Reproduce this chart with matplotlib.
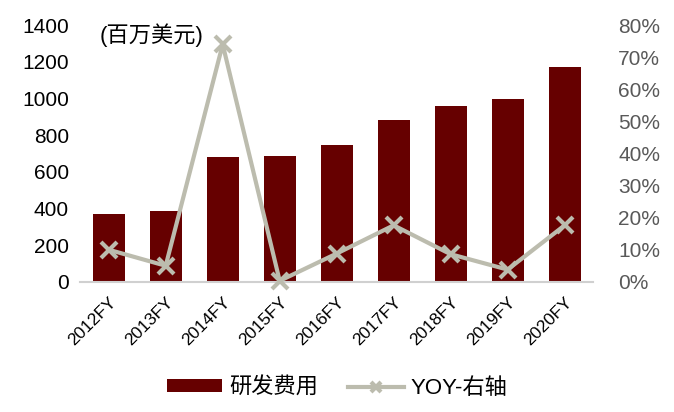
import matplotlib.pyplot as plt
import numpy as np
from matplotlib.ticker import FuncFormatter

plt.rcParams['font.family'] = ['Liberation Sans', 'Noto Sans CJK SC', 'DejaVu Sans']

# data
years = ['2012FY', '2013FY', '2014FY', '2015FY', '2016FY', '2017FY', '2018FY', '2019FY', '2020FY']
rd_expense = [370, 388, 682, 686, 748, 882, 958, 995, 1173]   # 百万美元
yoy = [10.0, 5.0, 74.0, 0.3, 8.8, 17.6, 8.6, 3.8, 17.6]      # %

bar_color = '#660000'
line_color = '#BCBCAE'

fig = plt.figure(figsize=(6.74, 4.12), dpi=100)
ax = fig.add_axes([0.119, 0.316, 0.761, 0.623])
x = np.arange(len(years))

bars = ax.bar(x, rd_expense, width=0.56, color=bar_color, label='研发费用', zorder=2)
ax.set_xlim(-0.5, len(years) - 0.5)
ax.set_ylim(0, 1400)
ax.set_yticks(range(0, 1401, 200))
ax.set_xticks(x)
ax.set_xticklabels(years, rotation=45, ha='right', rotation_mode='anchor', fontsize=12.5)
ax.tick_params(axis='x', length=0, pad=9)
ax.tick_params(axis='y', length=0, labelsize=15, pad=8)
for s in ['top', 'right', 'left']:
    ax.spines[s].set_visible(False)
ax.spines['bottom'].set_color('#D0D0D0')
ax.spines['bottom'].set_linewidth(1.5)

ax2 = ax.twinx()
line, = ax2.plot(x, yoy, color=line_color, lw=3, marker='x', markersize=11,
                 markeredgewidth=3, label='YOY-右轴', zorder=3, clip_on=False)
ax2.set_ylim(0, 80)
ax2.set_yticks(range(0, 81, 10))
ax2.yaxis.set_major_formatter(FuncFormatter(lambda v, p: f'{v:.0f}%'))
ax2.tick_params(axis='y', length=0, labelsize=15, labelcolor='#595959', pad=18)
for s in ax2.spines.values():
    s.set_visible(False)

ax.text(0.037, 0.96, '(百万美元)', transform=ax.transAxes, fontsize=16, va='center')

fig.legend([bars, line], ['研发费用', 'YOY-右轴'], loc='center', bbox_to_anchor=(0.5, 0.058),
           ncol=2, frameon=False, fontsize=16, handlelength=2.5, columnspacing=1.35,
           handletextpad=0.3, handleheight=0.5, markerscale=0.7)

fig.savefig('out.png', dpi=100)
